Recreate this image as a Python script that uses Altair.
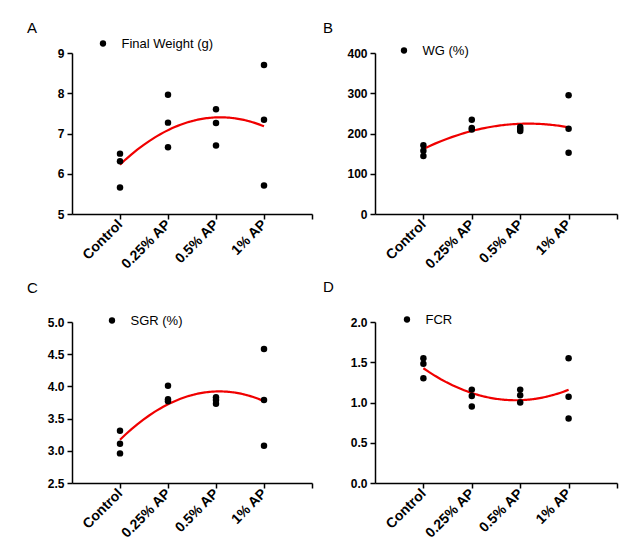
import altair as alt
import pandas as pd

categories = ["Control", "0.25% AP", "0.5% AP", "1% AP"]
group_index = [0, 0, 0, 1, 1, 1, 2, 2, 2, 3, 3, 3]

final_weight = [6.50, 6.31, 5.66, 7.96, 7.27, 6.66, 7.60, 7.26, 6.70, 8.70, 7.34, 5.71]
wg = [171, 157, 144, 234, 214, 210, 216, 211, 206, 295, 212, 152]
sgr = [3.31, 3.11, 2.96, 4.01, 3.80, 3.77, 3.83, 3.79, 3.73, 4.58, 3.79, 3.08]
fcr = [1.55, 1.48, 1.30, 1.16, 1.08, 0.95, 1.16, 1.09, 1.00, 1.55, 1.07, 0.80]

ticks_a = [5, 6, 7, 8, 9]
ticks_b = [0, 100, 200, 300, 400]
ticks_c = [2.5, 3.0, 3.5, 4.0, 4.5, 5.0]
ticks_d = [0.0, 0.5, 1.0, 1.5, 2.0]

FONT = "Liberation Sans"
label_list = "[" + ",".join("'" + c + "'" for c in categories) + ",'']"
label_expr = label_list + "[datum.value]"


def panel(letter, series, values, yticks, fmt, legx, legy, tdx, toff, w):
    df = pd.DataFrame({"x": group_index, "y": values, "s": series})
    base = alt.Chart(df)
    xaxis = alt.Axis(values=[0, 1, 2, 3, 4], labelExpr=label_expr, labelAngle=-45,
                     labelAlign="right", labelBaseline="middle", labelFont=FONT,
                     labelFontWeight="bold", labelFontSize=14, labelColor="black",
                     labelOverlap=False, labelBound=False,
                     tickColor="black", tickSize=5, tickWidth=1.5, domainColor="black",
                     domainWidth=1.5, grid=False, title=None, labelPadding=3)
    yaxis = alt.Axis(values=yticks, format=fmt, labelFont=FONT, labelFontWeight="bold",
                     labelFontSize=12, labelColor="black", tickColor="black", tickSize=5,
                     tickWidth=1.5, domainColor="black", domainWidth=1.5, grid=False,
                     labelOverlap=False,
                     title=None, labelPadding=3, minExtent=59, maxExtent=59)
    xs = alt.Scale(domain=[-1, 4], nice=False, zero=False)
    ys = alt.Scale(domain=[yticks[0], yticks[-1]], nice=False, zero=False)
    fit = base.transform_regression("x", "y", method="poly", order=2, extent=[0, 3]).mark_line(
        color="#f00000", strokeWidth=2.2).encode(
        x=alt.X("x:Q", scale=xs, axis=xaxis), y=alt.Y("y:Q", scale=ys, axis=yaxis))
    pts = base.mark_circle(size=42, opacity=1).encode(
        x=alt.X("x:Q", scale=xs, axis=xaxis),
        y=alt.Y("y:Q", scale=ys, axis=yaxis),
        color=alt.Color("s:N", scale=alt.Scale(range=["black"]),
                        legend=alt.Legend(orient="none", legendX=legx, legendY=legy, title=None,
                                          labelFont=FONT, labelFontSize=13, labelColor="black",
                                          symbolType="circle", symbolSize=40, symbolFillColor="black",
                                          symbolStrokeWidth=0, labelOffset=12, padding=0)))
    return alt.layer(fit, pts).properties(
        width=w, height=161,
        title=alt.Title(letter, anchor="start", frame="bounds", dx=tdx, fontSize=15,
                        fontWeight="normal", font=FONT, color="black", offset=toff))


pa = panel("A", "Final Weight (g)", final_weight, ticks_a, "d", 24.5, -16, 14, 1.5, 240)
pb = panel("B", "WG (%)", wg, ticks_b, "d", 22.5, -9, 7, 8.5, 242)
pc = panel("C", "SGR (%)", sgr, ticks_c, ".1f", 33.5, -8, 14, 18.5, 240)
pd_ = panel("D", "FCR", fcr, ticks_d, ".1f", 25.5, -9, 7, 18.5, 242)

chart = alt.vconcat(
    alt.hconcat(pa, pb, spacing=-1).resolve_scale(color="independent", y="independent"),
    alt.hconcat(pc, pd_, spacing=-1).resolve_scale(color="independent", y="independent"),
    spacing=7,
).resolve_scale(color="independent", y="independent").configure_view(stroke=None).properties(
    padding={"left": 5, "top": 12, "right": 5, "bottom": 5})

chart.save("out.html", embed_options={"renderer": "svg", "actions": False})
